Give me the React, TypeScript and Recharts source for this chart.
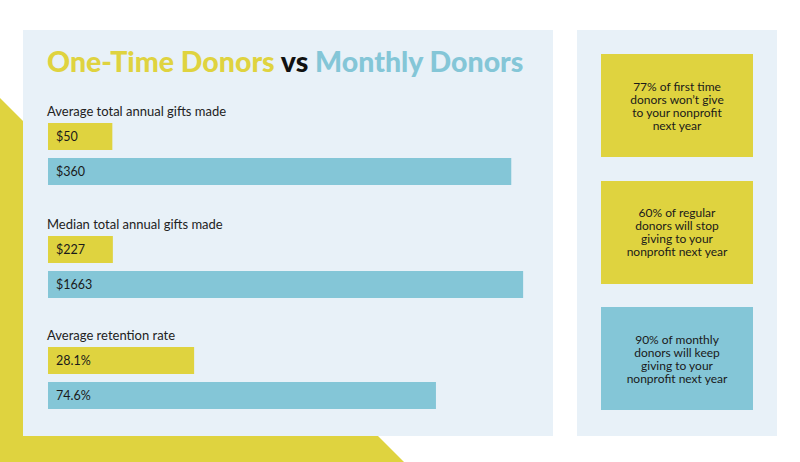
import { BarChart, Bar, XAxis, YAxis, Cell, LabelList } from "recharts";

// One-time vs monthly donors infographic: three small horizontal bar pairs,
// each on its own scale, plus the three fact cards on the right.

const GROUP_TITLES = [
  "Average total annual gifts made",
  "Median total annual gifts made",
  "Average retention rate",
];
const DONOR_TYPES = ["One-Time Donors", "Monthly Donors"];
const ONE_TIME = [50, 227, 28.1];
const MONTHLY = [360, 1663, 74.6];
const PREFIX = ["$", "$", ""];
const SUFFIX = ["", "", "%"];
const DOMAIN_MAX = [373, 1680, 92.3];

const FACTS = [
  ["77% of first time", "donors won\u2019t give", "to your nonprofit", "next year"],
  ["60% of regular", "donors will stop", "giving to your", "nonprofit next year"],
  ["90% of monthly", "donors will keep", "giving to your", "nonprofit next year"],
];

const YELLOW = "#dfd33f";
const BLUE = "#84c6d7";
const PANEL = "#e8f1f8";
const FONT = "Lato, 'Open Sans', sans-serif";
const COLORS = [YELLOW, BLUE];
const FACT_COLORS = [YELLOW, YELLOW, BLUE];
const BAR_TOPS = [123, 236, 347];

function GroupChart({ i }: { i: number }) {
  const data = DONOR_TYPES.map((name, k) => ({
    name,
    value: k === 0 ? ONE_TIME[i] : MONTHLY[i],
  }));
  const fmt = (v: any) => `${PREFIX[i]}${v}${SUFFIX[i]}`;
  const top = BAR_TOPS[i];
  return (
    <>
      <div style={{ position: "absolute", left: 47, top: top - 20, fontSize: 13, color: "#222", whiteSpace: "nowrap" }}>
        {GROUP_TITLES[i]}
      </div>
      <div style={{ position: "absolute", left: 48, top: top - 4 }}>
        <BarChart
          width={480}
          height={70}
          data={data}
          layout="vertical"
          margin={{ top: 0, right: 0, bottom: 0, left: 0 }}
          barCategoryGap={4}
        >
          <XAxis type="number" domain={[0, DOMAIN_MAX[i]]} hide />
          <YAxis type="category" dataKey="name" hide />
          <Bar dataKey="value" barSize={27} isAnimationActive={false}>
            {data.map((d, k) => (
              <Cell key={d.name} fill={COLORS[k]} />
            ))}
            <LabelList
              dataKey="value"
              position="insideLeft"
              offset={8}
              formatter={fmt}
              style={{ fontSize: 12.5, fill: "#1a1a1a", fontFamily: FONT }}
            />
          </Bar>
        </BarChart>
      </div>
    </>
  );
}

export default function App() {
  return (
    <div style={{ position: "absolute", left: 0, top: 0, width: 800, height: 462, background: "#fff", fontFamily: FONT, overflow: "hidden" }}>
      <svg width={800} height={462} style={{ position: "absolute", left: 0, top: 0 }}>
        <polygon points="0,98 60,158 60,400 342,400 404,462 0,462" fill={YELLOW} />
      </svg>
      <div style={{ position: "absolute", left: 23, top: 30, width: 530, height: 406, background: PANEL }} />
      <div style={{ position: "absolute", left: 577, top: 30, width: 200, height: 406, background: PANEL }} />

      <div style={{ position: "absolute", left: 47, top: 44, fontSize: 28.5, fontWeight: 900, whiteSpace: "nowrap" }}>
        <span style={{ color: YELLOW }}>One-Time Donors</span>
        <span style={{ color: "#111" }}> vs </span>
        <span style={{ color: BLUE }}>Monthly Donors</span>
      </div>

      {GROUP_TITLES.map((_, i) => (
        <GroupChart key={i} i={i} />
      ))}

      {FACTS.map((lines, i) => (
        <div
          key={i}
          style={{
            position: "absolute",
            left: 601,
            top: 54 + i * 126.5,
            width: 152,
            height: 103,
            background: FACT_COLORS[i],
            display: "flex",
            flexDirection: "column",
            justifyContent: "center",
            alignItems: "center",
            fontSize: 12,
            lineHeight: "13px",
            color: "#1a1a1a",
            textAlign: "center",
          }}
        >
          {lines.map((l) => (
            <div key={l}>{l}</div>
          ))}
        </div>
      ))}
    </div>
  );
}
